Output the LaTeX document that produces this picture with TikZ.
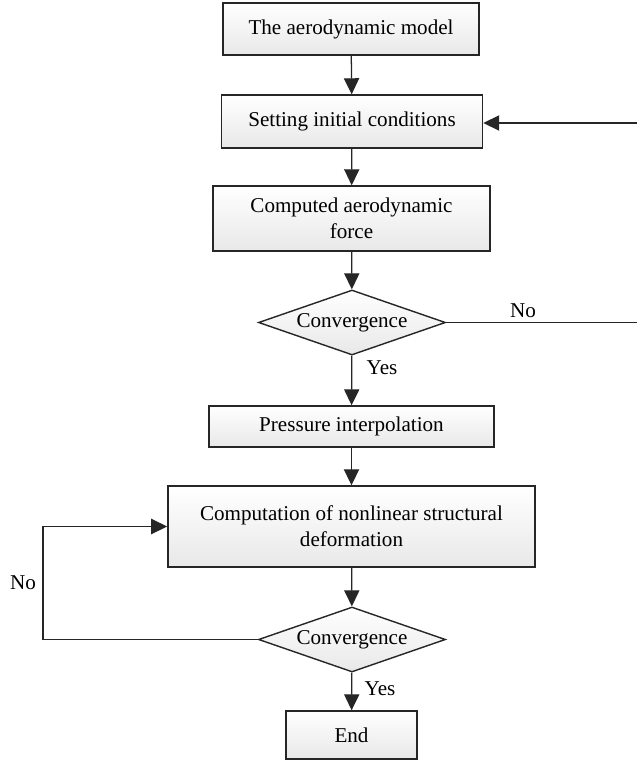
\documentclass[tikz,border=0pt]{standalone}
\usepackage{fontspec}
\setmainfont{Liberation Serif}
\usetikzlibrary{shapes.geometric,arrows.meta}

\begin{document}
\begin{tikzpicture}[x=0.025cm,y=-0.025cm,
    box/.style={draw=black!85,line width=1pt,top color=white,bottom color=gray!18,align=center,inner sep=0pt},
    decide/.style={diamond,draw=black!85,line width=1pt,top color=white,bottom color=gray!18,aspect=2.88,inner sep=0pt,minimum width=4.675cm,minimum height=1.625cm},
    line/.style={draw=black!85,line width=0.9pt},
    arr/.style={line,-{Triangle[length=0.4cm,width=0.38cm]}},
    font=\fontsize{15}{18.5}\selectfont]
    \useasboundingbox (0,0) rectangle (637,763);
    \node[box,minimum width=6.4cm,minimum height=1.3cm] (model) at (351,29) {The aerodynamic model};
    \node[box,minimum width=6.525cm,minimum height=1.325cm] (init) at (352,121.5) {Setting initial conditions};
    \node[box,minimum width=6.925cm,minimum height=1.625cm] (force) at (351.5,218.5) {Computed aerodynamic\\force};
    \node[decide] (conv1) at (352,322.5) {Convergence};
    \node[box,minimum width=7.125cm,minimum height=1.025cm] (press) at (351.5,426.5) {Pressure interpolation};
    \node[box,minimum width=9.175cm,minimum height=2.025cm] (struct) at (351.5,526.5) {Computation of nonlinear structural\\deformation};
    \node[decide] (conv2) at (352,639.5) {Convergence};
    \node[box,minimum width=3.275cm,minimum height=1.2cm] (end) at (351.5,735) {End};
    % main flow
    \draw[arr] (model) -- (init);
    \draw[arr] (init) -- (force);
    \draw[arr] (force) -- (conv1);
    \draw[arr] (conv1) -- (press);
    \draw[arr] (press) -- (struct);
    \draw[arr] (struct) -- (conv2);
    \draw[arr] (conv2) -- (end);
    % feedback loops
    \coordinate (rbot) at (637,322.5);
    \coordinate (rtop) at (637,123);
    \draw[line] (conv1.east) -- (rbot);
    \draw[arr] (rtop) -- (rtop -| init.east);
    \coordinate (lcorner) at (43,639.5);
    \draw[arr] (conv2.west) -- (lcorner) |- (struct.west);
    \node (no1) at (523,311) {No};
    \node (yes1) at (382,368) {Yes};
    \node (no2) at (23,583) {No};
    \node (yes2) at (380,689) {Yes};
\end{tikzpicture}
\end{document}
